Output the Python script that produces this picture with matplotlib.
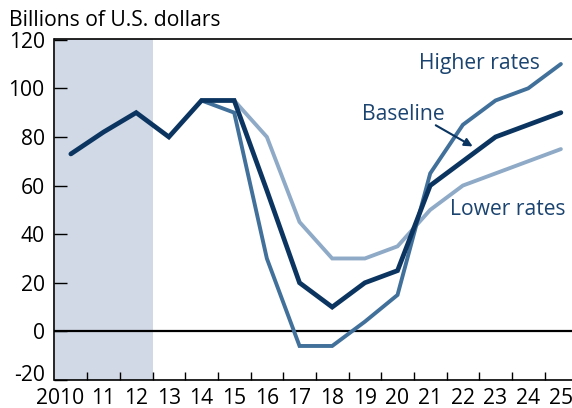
import matplotlib
matplotlib.use("Agg")
import matplotlib.pyplot as plt
import matplotlib.transforms as mtransforms

years = list(range(2010, 2026))
baseline = [73, 82, 90, 80, 95, 95, 58, 20, 10, 20, 25, 60, 70, 80, 85, 90]
scen_years = list(range(2014, 2026))
higher = [95, 90, 30, -6, -6, 4, 15, 65, 85, 95, 100, 110]
lower = [95, 95, 80, 45, 30, 30, 35, 50, 60, 65, 70, 75]
xlabels = ["2010"] + [str(y % 100) for y in years[1:]]
yticks = [-20, 0, 20, 40, 60, 80, 100, 120]

C_BASE = "#0b3560"
C_HIGH = "#41709a"
C_LOW = "#8faac7"
C_SHADE = "#d1d9e6"
C_TEXT = "#1b4470"
FS = 15.2

plt.rcParams['font.family'] = ['Open Sans', 'DejaVu Sans']

fig = plt.figure(figsize=(5.72, 4.08), dpi=100)
ax = fig.add_axes([54.5/572, 1-380/408, 1-54.5/572, (380-38.5)/408])

ax.axvspan(2009.5, 2012.5, color=C_SHADE, lw=0, zorder=0)
ax.axhline(0, color="black", lw=1.6, zorder=1)

ax.plot(scen_years, lower, color=C_LOW, lw=2.8, solid_capstyle='round', solid_joinstyle='miter', zorder=2)
ax.plot(scen_years, higher, color=C_HIGH, lw=2.8, solid_capstyle='round', solid_joinstyle='miter', zorder=3)
ax.plot(years, baseline, color=C_BASE, lw=3.4, solid_capstyle='round', solid_joinstyle='miter', zorder=4)

ax.set_xlim(2009.5, 2009.5 + (572-54.5)/32.67)
ax.set_ylim(-20, 120.5)

ax.set_xticks([y + 0.5 for y in years[:-1]])
ax.set_xticklabels([])
ax.set_xticks(years, minor=True)
ax.set_xticklabels(xlabels, minor=True, fontsize=FS)
ax.tick_params(axis='x', which='major', direction='in', length=6, width=1.0, color='black')
ax.tick_params(axis='x', which='minor', length=0, pad=6)
for lab in ax.get_xticklabels(minor=True):
    if lab.get_text() == "2010":
        lab.set_transform(lab.get_transform() + mtransforms.ScaledTranslation(-11/100, 0, fig.dpi_scale_trans))

ax.set_yticks(yticks)
ax.set_yticklabels([str(v) for v in yticks], fontsize=FS)
ax.tick_params(axis='y', direction='in', length=9, width=1.0, pad=7)
for lab in ax.get_yticklabels():
    if lab.get_text() == "-20":
        lab.set_transform(lab.get_transform() + mtransforms.ScaledTranslation(0, 5/72, fig.dpi_scale_trans))

for s in ['left', 'bottom', 'top']:
    ax.spines[s].set_linewidth(1.2)
    ax.spines[s].set_color('black')
ax.spines['right'].set_visible(False)

fig.text(9/572, 1-20/408, "Billions of U.S. dollars", fontsize=FS, ha='left', va='center')

ax.text(2022.5, 110.3, "Higher rates", color=C_TEXT, fontsize=FS, ha='center', va='center')
ax.text(2020.17, 89.2, "Baseline", color=C_TEXT, fontsize=FS, ha='center', va='center')
ax.text(2023.37, 50, "Lower rates", color=C_TEXT, fontsize=FS, ha='center', va='center')
ax.annotate("", xy=(2022.3, 76.1), xytext=(2021.17, 84.8),
            arrowprops=dict(arrowstyle='-|>', color=C_BASE, lw=1.5, mutation_scale=12, shrinkA=0, shrinkB=0))

fig.savefig("out.png", dpi=100)
